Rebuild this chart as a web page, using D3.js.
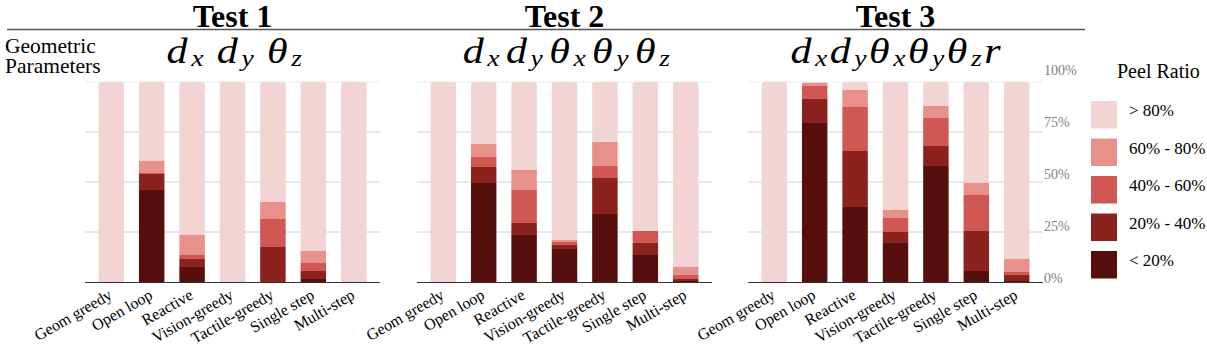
<!DOCTYPE html>
<html><head><meta charset="utf-8">
<script src="https://cdn.jsdelivr.net/npm/d3@7"></script>
<style>
body{margin:0;background:#fff}svg{display:block}
.serif{font-family:"Liberation Serif","Times New Roman",Times,serif}
.math{font-family:"Liberation Serif","DejaVu Serif",serif;font-style:italic}
</style>
</head><body>
<script>
const categories = ["Geom greedy","Open loop","Reactive","Vision-greedy","Tactile-greedy","Single step","Multi-step"];
const bins = ["< 20%","20% - 40%","40% - 60%","60% - 80%","> 80%"];
const binColors = ["#560f0d","#8b221e","#d05752","#e8908a","#f2d4d5"];
const testTitles = ["Test 1","Test 2","Test 3"];
const yTicks = [0,25,50,75,100];
const tickLabels = ["0%","25%","50%","75%","100%"];
const test1Params = [["d","x"],["d","y"],["θ","z"]];
const test2Params = [["d","x"],["d","y"],["θ","x"],["θ","y"],["θ","z"]];
const test3Params = [["d","x"],["d","y"],["θ","x"],["θ","y"],["θ","z"],["r",""]];

const test1Lt20  = [0,46,7.5,0,0,1.5,0];
const test1B2040 = [0,8,4,0,17.5,4,0];
const test1B4060 = [0,0.5,2,0,14,4,0];
const test1B6080 = [0,6,10,0,8.5,6,0];
const test1Gt80  = [100,39.5,76.5,100,60,84.5,100];

const test2Lt20  = [0,49.5,23.5,16.5,34,13.5,0.5];
const test2B2040 = [0,8,6,2,18,6,1];
const test2B4060 = [0,5,16.5,1.5,6,6,2];
const test2B6080 = [0,6.5,10,1,12,0,4];
const test2Gt80  = [100,31,44,79,30,74.5,92.5];

const test3Lt20  = [0,79.5,37.5,19.5,58,5.5,0.5];
const test3B2040 = [0,12,28,5.5,10,20,3];
const test3B4060 = [0,6.5,22,7,14,18,1.5];
const test3B6080 = [0,1.5,8.5,4,6,6,6.5];
const test3Gt80  = [100,0.5,4,64,12,50.5,88.5];

const tests = [
  {title:testTitles[0], params:test1Params, series:[test1Lt20,test1B2040,test1B4060,test1B6080,test1Gt80], gap:17},
  {title:testTitles[1], params:test2Params, series:[test2Lt20,test2B2040,test2B4060,test2B6080,test2Gt80], gap:10},
  {title:testTitles[2], params:test3Params, series:[test3Lt20,test3B2040,test3B4060,test3B6080,test3Gt80], gap:6}
];

const W = 1207, H = 351;
const svg = d3.select("body").append("svg").attr("width",W).attr("height",H);

const panelX = [85, 417, 748];
const panelW = 295;
const y = d3.scaleLinear().domain([0,100]).range([282,82]);

svg.append("line").attr("x1",7).attr("x2",1085).attr("y1",29.5).attr("y2",29.5)
  .attr("stroke","#555").attr("stroke-width",1.5);

svg.append("text").attr("class","serif").attr("x",5).attr("y",53).style("font-size","21.5px").attr("fill","#000").text("Geometric");
svg.append("text").attr("class","serif").attr("x",5).attr("y",73).style("font-size","21.5px").attr("fill","#000").text("Parameters");

tests.forEach((t,i) => {
  const x0 = panelX[i];
  const x = d3.scaleBand().domain(categories).range([x0, x0+panelW]).paddingInner(0.37).paddingOuter(0.335);
  const g = svg.append("g");
  const cx = x0 + panelW/2;

  g.append("text").attr("class","serif").attr("x",cx).attr("y",27).attr("text-anchor","middle")
    .style("font-weight","bold").style("font-size","32px").attr("fill","#000").text(t.title);

  g.selectAll("line.grid").data(yTicks.filter(v=>v>0)).join("line")
    .attr("x1",x0).attr("x2",x0+panelW).attr("y1",d=>y(d)).attr("y2",d=>y(d))
    .attr("stroke",d=>d===100?"#ececec":"#d2d2d2").attr("stroke-width",1);

  const rows = categories.map((c,ci)=>{ const r={cat:c}; bins.forEach((b,bi)=>r[b]=t.series[bi][ci]); return r; });
  const stacked = d3.stack().keys(bins)(rows);
  const order = [4,0,1,2,3];
  order.forEach(k => {
    const layer = stacked[k];
    g.selectAll(null).data(layer.filter(d=>d[1]-d[0]>0)).join("rect")
      .attr("x",d=>x(d.data.cat)).attr("width",x.bandwidth())
      .attr("y",d=>y(d[1])).attr("height",d=> k===4 ? y(d[0])-y(d[1])+ (d[0]>0?3:0) : y(d[0])-y(d[1]))
      .attr("rx",k===4?2.5:0)
      .attr("fill",binColors[k]);
  });
  g.selectAll(null).data(stacked[4].filter(d=>d[0]===0)).join("rect")
    .attr("x",d=>x(d.data.cat)).attr("width",x.bandwidth())
    .attr("y",d=>y(d[0])-4).attr("height",4).attr("fill",binColors[4]);

  g.append("line").attr("x1",x0).attr("x2",x0+panelW).attr("y1",y(0)+0.5).attr("y2",y(0)+0.5)
    .attr("stroke","#333").attr("stroke-width",1.2);

  g.selectAll("text.xl").data(categories).join("text").attr("class","serif")
    .attr("transform",d=>`translate(${x(d)+x.bandwidth()/2+2},${y(0)+16}) rotate(-30)`)
    .attr("text-anchor","end").style("font-size","16px").attr("fill","#000")
    .text(d=>d);

  // math parameter labels (slightly stretched italic serif)
  const sx = 1.2;
  const pg = g.append("g");
  const items = t.params.map(p => {
    const wg = pg.append("g");
    const tx = wg.append("text").attr("class","math").attr("x",0).attr("y",63).style("font-size","35px").attr("fill","#000");
    tx.append("tspan").text(p[0]);
    if (p[1]) tx.append("tspan").attr("dx",3).attr("dy",3).style("font-size","23px").text(p[1]);
    return {wg, w: tx.node().getComputedTextLength()*sx};
  });
  const total = d3.sum(items, d=>d.w) + t.gap*(items.length-1);
  let cur = cx - total/2;
  items.forEach(it=>{ it.wg.attr("transform",`translate(${cur},0) scale(${sx},1)`); cur += it.w + t.gap; });

  if (i===2) {
    g.selectAll("text.yt").data(yTicks).join("text").attr("class","serif")
      .attr("x",x0+panelW+1).attr("y",d=>y(d)+1-8*d/100)
      .style("font-size","14px").attr("fill","#808080")
      .text((d,k)=>tickLabels[k]);
  }
});

const lg = svg.append("g");
lg.append("text").attr("class","serif").attr("x",1117).attr("y",78).style("font-size","20px").attr("fill","#000").text("Peel Ratio");
const legendOrder = [4,3,2,1,0];
legendOrder.forEach((k,j)=>{
  const top = 101 + j*37.5;
  lg.append("rect").attr("x",1091).attr("y",top).attr("width",26).attr("height",27.5).attr("fill",binColors[k]);
  lg.append("text").attr("class","serif").attr("x",1129).attr("y",top+15).style("font-size","17px").attr("fill","#000").text(bins[k]);
});
</script>
</body></html>
